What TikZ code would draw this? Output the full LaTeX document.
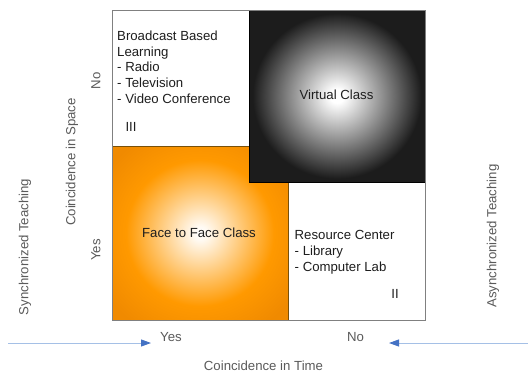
\documentclass[tikz,border=0pt]{standalone}
\usepackage{fontspec}
\setmainfont{Liberation Sans}
\usetikzlibrary{arrows.meta}
\definecolor{lbl}{RGB}{90,90,90}
\definecolor{txt}{RGB}{30,30,30}
\definecolor{frame}{RGB}{128,128,128}
\definecolor{orng}{RGB}{255,153,0}
\definecolor{orngd}{RGB}{240,138,0}
\definecolor{orngb}{RGB}{120,80,10}
\definecolor{vcdark}{RGB}{28,28,28}
\definecolor{arrline}{RGB}{165,192,230}
\definecolor{arrhead}{RGB}{68,114,196}
\pgfdeclareradialshading{vcshade}{\pgfpointorigin}{color(0bp)=(white); color(2bp)=(white); color(24bp)=(vcdark); color(50bp)=(vcdark)}
\pgfdeclareradialshading{ffshade}{\pgfpointorigin}{color(0bp)=(white); color(2bp)=(white!95!orng); color(21bp)=(orng); color(32bp)=(orngd); color(50bp)=(orngd)}
\tikzset{
  boxtext/.style={text=txt, inner sep=0pt, align=left},
  axislabel/.style={text=lbl, inner sep=0pt},
  whitebox/.style={draw=frame, fill=white, line width=0.8pt},
  axisarrow/.style={draw=arrline, line width=0.9pt, -{Triangle[length=10pt,width=7pt,color=arrhead]}}
}
\begin{document}
\begin{tikzpicture}[x=1pt,y=-1pt,font=\fontsize{13.2}{15.8}\selectfont]
\useasboundingbox (0,0) rectangle (528,373);
% quadrants
\fill[white] (112,10) rectangle (425,320);
\path[whitebox] (112,10) rectangle (249,146);
\path[whitebox] (288,182) rectangle (425,320);
\path[shading=ffshade, draw=orngb, line width=0.8pt] (112,146) rectangle (288,320);
\path[shading=vcshade, draw=black, line width=0.8pt] (249,10) rectangle (425,182);
\draw[frame, line width=0.8pt] (112,10) rectangle (425,320);
% box texts
\node[boxtext, anchor=north west] (bb) at (117,30.5) {Broadcast Based\\Learning\\- Radio\\- Television\\- Video Conference};
\node[boxtext] (q3) at (131,127) {III};
\node[boxtext] (vc) at (336.5,95) {Virtual Class};
\node[boxtext] (ff) at (199,232.5) {Face to Face Class};
\node[boxtext, anchor=north west] (rc) at (294.5,230.5) {Resource Center\\- Library\\- Computer Lab};
\node[boxtext] (q2) at (395,293.5) {II};
% axis labels
\node[axislabel, rotate=90] (no1) at (96,81) {No};
\node[axislabel, rotate=90] (yes1) at (96,250) {Yes};
\node[axislabel, rotate=90] (cis) at (72,162) {Coincidence in Space};
\node[axislabel, rotate=90] (st) at (25,247) {Synchronized Teaching};
\node[axislabel, rotate=90] (ast) at (493,236) {Asynchronized Teaching};
\node[axislabel] (yes2) at (171,337) {Yes};
\node[axislabel] (no2) at (355.5,337) {No};
\node[axislabel] (cit) at (263.5,366) {Coincidence in Time};
% arrows
\coordinate (la) at (8,343);
\coordinate (lb) at (151,343);
\coordinate (ra) at (528,343);
\coordinate (rb) at (389,343);
\draw[axisarrow] (la) -- (lb);
\draw[axisarrow] (ra) -- (rb);
\end{tikzpicture}
\end{document}
